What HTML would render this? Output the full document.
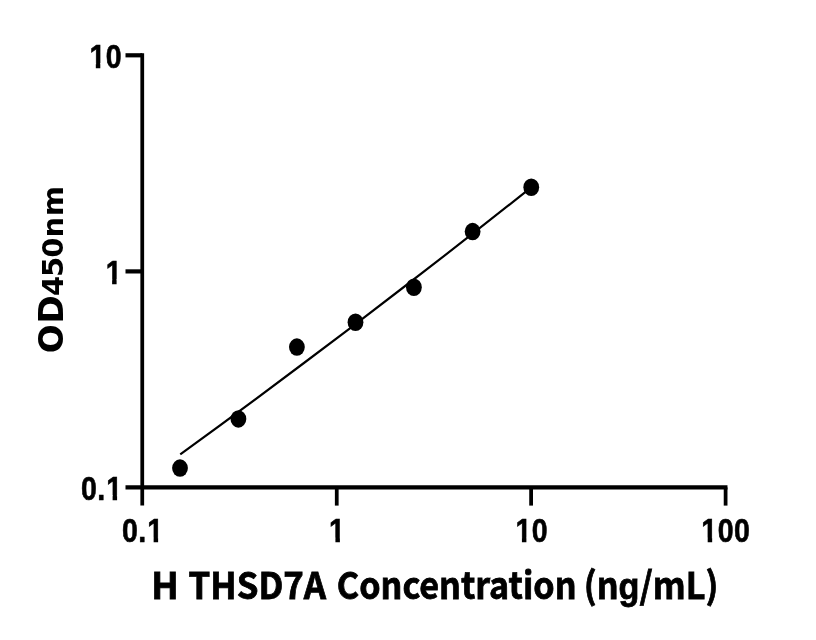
<!DOCTYPE html>
<html lang="en">
<head>
<meta charset="utf-8">
<title>H THSD7A Concentration (ng/mL)</title>
<style>
  html, body { margin: 0; padding: 0; background: #ffffff; }
  body { width: 816px; height: 640px; overflow: hidden; }
  svg { display: block; }
  .tick { font-family: "Liberation Sans", sans-serif; font-weight: bold; font-size: 34px; fill: #000; }
  .tick text { stroke: #000; stroke-width: 0.6px; }
  .title { font-family: "Noto Sans CJK SC", "Liberation Sans", sans-serif; font-weight: bold; font-size: 37.0px; fill: #000; }
  .title .g1 { font-family: "Liberation Sans", sans-serif; }
  .ylab { font-family: "DejaVu Sans", "Liberation Sans", sans-serif; font-weight: bold; fill: #000; }
  .nofoot { fill: #ffffff; }
</style>
</head>
<body>
<svg width="816" height="640" viewBox="0 0 816 640">
  <defs>
    <!-- hides the foot serif of the Liberation Sans Bold "1" (34px glyph, origin at 0,0) -->
    <g id="nofoot" class="nofoot">
      <rect x="-0.5" y="-4.4" width="8.1" height="6.4"/>
      <rect x="12.94" y="-4.4" width="6.56" height="6.4"/>
    </g>
  </defs>
  <rect x="0" y="0" width="816" height="640" fill="#ffffff"/>

  <!-- axes -->
  <g stroke="#000" fill="none" stroke-linecap="butt">
    <g stroke-width="3.75">
      <path d="M142.25,53.2 V505.6"/>
      <path d="M336.75,487.4 V505.6"/>
      <path d="M531.1,487.4 V505.6"/>
      <path d="M725.6,487.4 V505.6"/>
    </g>
    <g stroke-width="4.2">
      <path d="M125.5,487.4 H727.47"/>
      <path d="M125.5,55.3 H142.25"/>
      <path d="M125.5,271.4 H142.25"/>
    </g>
  </g>

  <!-- fitted curve -->
  <path d="M180.25,454.4 Q355.75,327.1 531.25,187.3" stroke="#000" stroke-width="2.15" fill="none"/>

  <!-- data points -->
  <g fill="#000">
    <ellipse cx="180" cy="468.1" rx="7.9" ry="8.75"/>
    <ellipse cx="238.4" cy="418.9" rx="7.9" ry="8.75"/>
    <ellipse cx="296.9" cy="347.1" rx="7.9" ry="8.75"/>
    <ellipse cx="355.5" cy="322.3" rx="7.9" ry="8.75"/>
    <ellipse cx="413.9" cy="287.25" rx="7.9" ry="8.75"/>
    <ellipse cx="472.6" cy="231.6" rx="7.9" ry="8.75"/>
    <ellipse cx="531.25" cy="187.25" rx="7.9" ry="8.75"/>
  </g>

  <!-- y tick labels -->
  <g class="tick">
    <g transform="translate(89.43,67.6) scale(0.84,1)"><text x="0 19.46" y="0">10</text><use href="#nofoot" x="0"/></g>
    <g transform="translate(105.73,283.6) scale(0.84,1)"><text x="0" y="0">1</text><use href="#nofoot" x="0"/></g>
    <g transform="translate(80.9,499.6) scale(0.84,1)"><text x="0 19.48 30.15" y="0">0.1</text><use href="#nofoot" x="30.15"/></g>
  </g>

  <!-- x tick labels -->
  <g class="tick">
    <g transform="translate(121.92,542.15) scale(0.84,1)"><text x="0 19.48 30.15" y="0">0.1</text><use href="#nofoot" x="30.15"/></g>
    <g transform="translate(329.03,542.15) scale(0.84,1)"><text x="0" y="0">1</text><use href="#nofoot" x="0"/></g>
    <g transform="translate(515.53,542.15) scale(0.84,1)"><text x="0 19.46" y="0">10</text><use href="#nofoot" x="0"/></g>
    <g transform="translate(701.3,542.15) scale(0.84,1)"><text x="0 19.46 38.92" y="0">100</text><use href="#nofoot" x="0"/></g>
  </g>

  <!-- x axis title -->
  <g class="title">
    <text transform="translate(151.26,599.4) scale(0.9814,1)" x="0" y="0" textLength="28.01" lengthAdjust="spacingAndGlyphs" stroke="#000" stroke-width="0.8">H</text>
    <text transform="translate(188.51,599.4) scale(0.9418,1)" x="0" y="0" textLength="146.19" lengthAdjust="spacingAndGlyphs" stroke="#000" stroke-width="0.8">THSD7A</text>
    <text transform="translate(336.84,599.4) scale(0.9108,1)" x="0" y="0" textLength="263.14" lengthAdjust="spacingAndGlyphs" stroke="#000" stroke-width="0.8">Concentration</text>
    <text transform="translate(583.75,599.4) scale(0.9240,1)" x="0" y="0" textLength="145.66" lengthAdjust="spacingAndGlyphs" stroke="#000" stroke-width="0.8">(n<tspan class="g1">g</tspan>/mL)</text>
  </g>

  <!-- y axis title -->
  <g class="ylab" transform="translate(62.5,353.5) rotate(-90)">
    <text y="0"><tspan font-size="34px" x="0.16 30.09">OD</tspan><tspan font-size="29px" x="57.43 76.55 95.71 115.99 137.18">450nm</tspan></text>
  </g>
</svg>
</body>
</html>
